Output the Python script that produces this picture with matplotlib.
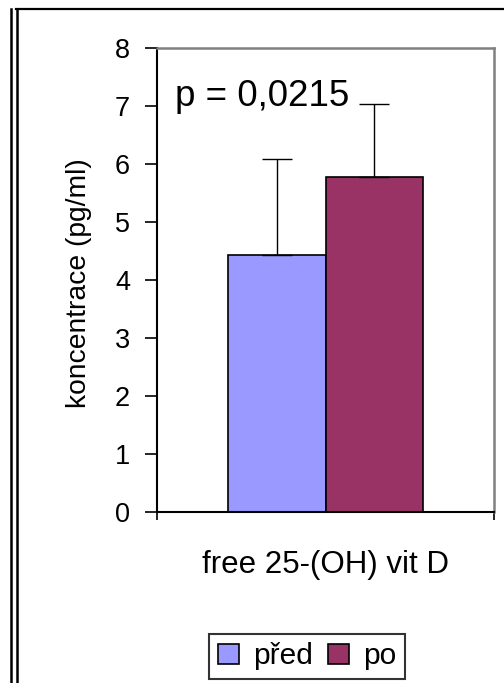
import numpy as np
import matplotlib.pyplot as plt
from matplotlib.lines import Line2D

plt.rcParams['font.family'] = ['Liberation Sans', 'DejaVu Sans']

# data
category = "free 25-(OH) vit D"
series = ["před", "po"]
values = [4.43, 5.78]
err_upper = [1.66, 1.25]
colors = ["#9999FF", "#993366"]
p_text = "p = 0,0215"

W, H = 504, 683
fig = plt.figure(figsize=(W / 100, H / 100), dpi=100)
ax = fig.add_axes([157 / W, 1 - 512 / H, (494 - 157) / W, (512 - 48) / H])

bw = 0.288
xs = [-bw / 2, bw / 2]
for x, v, e, c, name in zip(xs, values, err_upper, colors, series):
    ax.bar(x, v, width=bw, color=c, edgecolor="black", linewidth=1.2, label=name, zorder=2)
    ax.errorbar(x, v, yerr=[[0], [e]], fmt="none", ecolor="black", elinewidth=1.0,
                capsize=11, capthick=1.0, zorder=3)

ax.set_xlim(-0.5, 0.5)
ax.set_ylim(0, 8)
ax.set_yticks(range(0, 9))
ax.tick_params(axis="y", direction="out", length=8.5, width=1.2, pad=11, labelsize=19.5)

# category label as minor tick, edge ticks as major ticks
ax.set_xticks([-0.5, 0.5])
ax.set_xticklabels(["", ""])
ax.tick_params(axis="x", which="major", direction="out", length=6, width=1.2)
ax.set_xticks([0], minor=True)
ax.set_xticklabels([category], minor=True)
ax.tick_params(axis="x", which="minor", length=0, pad=27, labelsize=22.5)

for s in ["left", "bottom"]:
    ax.spines[s].set_color("black")
    ax.spines[s].set_linewidth(1.5)
for s in ["top", "right"]:
    ax.spines[s].set_color("#808080")
    ax.spines[s].set_linewidth(1.8)

ax.set_ylabel("koncentrace (pg/ml)", fontsize=20.3, va="center")
ax.yaxis.set_label_coords(-0.232, 0.4925)

ax.text(-0.447, 7.0, p_text, fontsize=26.5, va="baseline", ha="left")

leg = fig.legend(loc="center", bbox_to_anchor=(0.609, 0.0388), ncol=2, fontsize=21.5,
                 frameon=True, fancybox=False, handlelength=0.72, handleheight=0.68,
                 handletextpad=0.45, columnspacing=0.5, borderpad=0.3)
leg.get_frame().set_edgecolor("black")
leg.get_frame().set_linewidth(1.5)

# outer frame lines of the original picture
fig.add_artist(Line2D([10.5 / W, 10.5 / W], [0, 1 - 9 / H], color="black", lw=1.8))
fig.add_artist(Line2D([16.5 / W, 16.5 / W], [0, 1 - 9 / H], color="black", lw=1.8))
fig.add_artist(Line2D([15.5 / W, 1], [1 - 9.3 / H, 1 - 9.3 / H], color="black", lw=1.6))

fig.savefig("out.png", dpi=100)
